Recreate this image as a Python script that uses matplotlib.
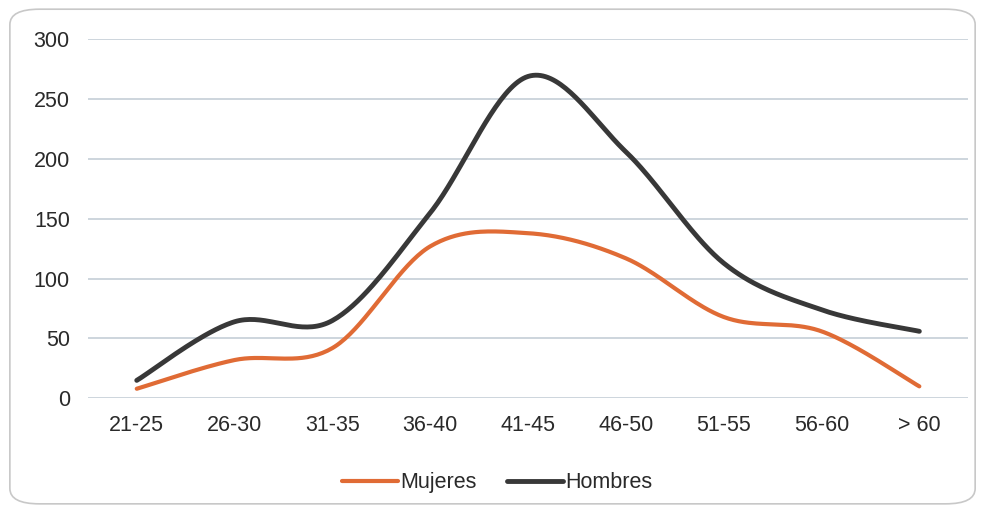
import numpy as np
import matplotlib
matplotlib.use('Agg')
import matplotlib.pyplot as plt
from matplotlib.patches import FancyBboxPatch

plt.rcParams['font.family'] = ['Liberation Sans', 'DejaVu Sans']

categorias = ['21-25', '26-30', '31-35', '36-40', '41-45', '46-50', '51-55', '56-60', '> 60']
mujeres = [8, 32, 42, 127, 138, 117, 68, 56, 10]
hombres = [15, 64, 65, 155, 269, 206, 113, 74, 56]


def suavizar(y, n=40):
    # curva tipo Excel (Catmull-Rom con beziers)
    x = np.arange(len(y), dtype=float)
    y = np.asarray(y, dtype=float)
    p = np.column_stack([x, y])
    p = np.vstack([p[0], p, p[-1]])
    t = np.linspace(0, 1, n)[:, None]
    out = []
    for i in range(1, len(p) - 2):
        p0, p3 = p[i], p[i + 1]
        c1 = p0 + (p[i + 1] - p[i - 1]) / 6
        c2 = p3 - (p[i + 2] - p[i]) / 6
        seg = ((1 - t) ** 3) * p0 + 3 * ((1 - t) ** 2) * t * c1 + 3 * (1 - t) * t ** 2 * c2 + t ** 3 * p3
        out.append(seg if i == 1 else seg[1:])
    out = np.vstack(out)
    return out[:, 0], out[:, 1]


fig = plt.figure(figsize=(9.87, 5.11), dpi=100)
ax = fig.add_axes([0.089, 0.2205, 0.892, 0.7025])

marco = FancyBboxPatch((0.010, 0.014), 0.978, 0.968, boxstyle='round,pad=0,rounding_size=0.03',
                       transform=fig.transFigure, fill=False, edgecolor='#c8c8c8', linewidth=1.2)
fig.patches.append(marco)

xm, ym = suavizar(mujeres)
xh, yh = suavizar(hombres)
ax.plot(xm, ym, color='#e06b35', linewidth=3.0, solid_capstyle='round', label='Mujeres')
ax.plot(xh, yh, color='#383838', linewidth=3.5, solid_capstyle='round', label='Hombres')

ax.set_xlim(-0.5, len(categorias) - 0.5)
ax.set_ylim(0, 300)
ax.set_yticks(np.arange(0, 301, 50))
ax.set_xticks(range(len(categorias)))
ax.set_xticklabels(categorias)
ax.grid(axis='y', color='#c9d2da', linewidth=1.3)
ax.set_axisbelow(True)
for s in ax.spines.values():
    s.set_visible(False)
ax.tick_params(length=0, labelsize=15.5, colors='#2a2a2a', pad=12)
ax.tick_params(axis='y', pad=13)

ax.legend(loc='center', bbox_to_anchor=(0.465, -0.235), ncol=2, frameon=False,
          fontsize=15.5, handlelength=2.6, handletextpad=0.1, columnspacing=1.4,
          labelcolor='#2a2a2a')

fig.savefig('out.png', dpi=100)
